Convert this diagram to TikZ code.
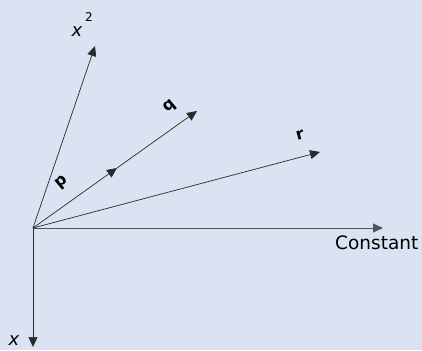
\documentclass[tikz,border=0pt]{standalone}
\usepackage{fontspec}
\setmainfont{DejaVu Sans}
\usetikzlibrary{arrows.meta}
\definecolor{bg}{HTML}{DAE3F1}
\definecolor{ln}{HTML}{2A2A2A}
\begin{document}
\begin{tikzpicture}[x=1pt,y=-1pt,
  vec/.style={draw=ln,line width=0.7pt,-{Triangle[length=10pt,width=9pt]}},
  lbl/.style={inner sep=0pt,font=\fontsize{18}{18}\selectfont,text=black}]
\fill[bg] (0,0) rectangle (422,350);
\useasboundingbox (0,0) rectangle (422,350);
\coordinate (O) at (33,228);
\coordinate (X2) at (95,46);
\coordinate (P) at (117,168);
\coordinate (Q) at (197,111);
\coordinate (R) at (320,152);
\coordinate (C) at (383,228);
\coordinate (X) at (33,347);
\draw[vec] (O) -- (X2);
\draw[vec] (O) -- (P);
\draw[vec] (P) -- (Q);
\draw[vec] (O) -- (R);
\draw[vec,line width=1pt,draw=ln!80] (O) -- (C);
\draw[vec] (O) -- (X);
\node[lbl] (lx2) at (77,32) {\itshape x};
\node[lbl,font=\fontsize{12}{12}\selectfont] (l2) at (89,17) {2};
\node[lbl,rotate=40,font=\bfseries\fontsize{16}{16}\selectfont] (lp) at (62,183) {p};
\node[lbl,rotate=40,font=\bfseries\fontsize{16}{16}\selectfont] (lq) at (170,107) {q};
\node[lbl,rotate=15,font=\bfseries\fontsize{16}{16}\selectfont] (lr) at (300,135) {r};
\node[lbl,anchor=west,font=\fontsize{18.5}{18.5}\selectfont] (lc) at (335,243) {Constant};
\node[lbl] (lxx) at (14,341) {\itshape x};
\end{tikzpicture}
\end{document}
